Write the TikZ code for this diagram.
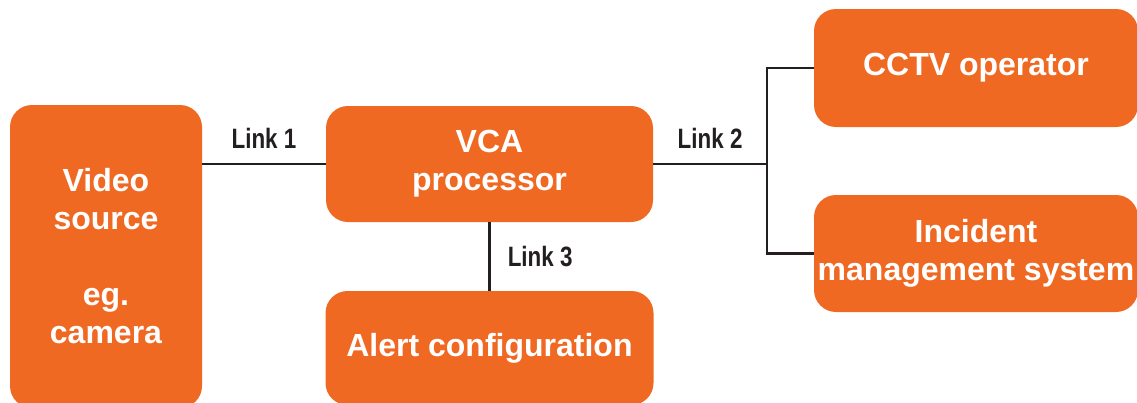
\documentclass[tikz,border=0pt]{standalone}
\usepackage{fontspec}
\setmainfont{Liberation Sans}
\newfontfamily\linkfont[FakeStretch=0.8]{Liberation Sans}

\definecolor{boxorange}{RGB}{240, 105, 35}
\definecolor{wirecolor}{RGB}{35, 31, 32}

\tikzset{
    unit/.style={fill=boxorange, rounded corners=22pt, text=white, align=center,
        font=\fontsize{32}{38}\selectfont\bfseries, inner sep=0pt},
    wire/.style={wirecolor, line width=2.5pt},
    linklabel/.style={text=wirecolor, font=\linkfont\fontsize{28}{32}\selectfont\bfseries, inner sep=0pt}
}

\begin{document}
\begin{tikzpicture}[x=1pt, y=-1pt]
    % page frame, pixel-like coordinates (y runs down)
    \useasboundingbox (0,0) rectangle (1137,402);
    \clip (0,0) rectangle (1137,402);

    % Boxes
    \node[unit, minimum width=192pt, minimum height=303pt] (video) at (106,256.5)
        {Video\\source\\[38pt]eg.\\camera};
    \node[unit, minimum width=327pt, minimum height=116pt] (vca) at (489.5,164) {VCA\\processor};
    \node[unit, minimum width=328pt, minimum height=114pt] (alert) at (489.5,348) {Alert configuration};
    \node[unit, minimum width=324pt, minimum height=118pt] (cctv) at (976,68) {CCTV operator};
    \node[unit, minimum width=324pt, minimum height=117pt] (incident) at (976,253.5)
        {Incident\\management system};

    % Links
    \coordinate (split) at (767,164);
    \draw[wire] (video.east |- vca.west) -- node[linklabel, above=14pt] (link1) {Link 1} (vca.west);
    \draw[wire] (vca.east) -- node[linklabel, above=14pt] (link2) {Link 2} (split);
    \draw[wire] (cctv.west) -| (split) |- (incident.west);
    \draw[wire] (vca.south) -- node[linklabel, right=17pt] (link3) {Link 3} (alert.north);
\end{tikzpicture}
\end{document}
